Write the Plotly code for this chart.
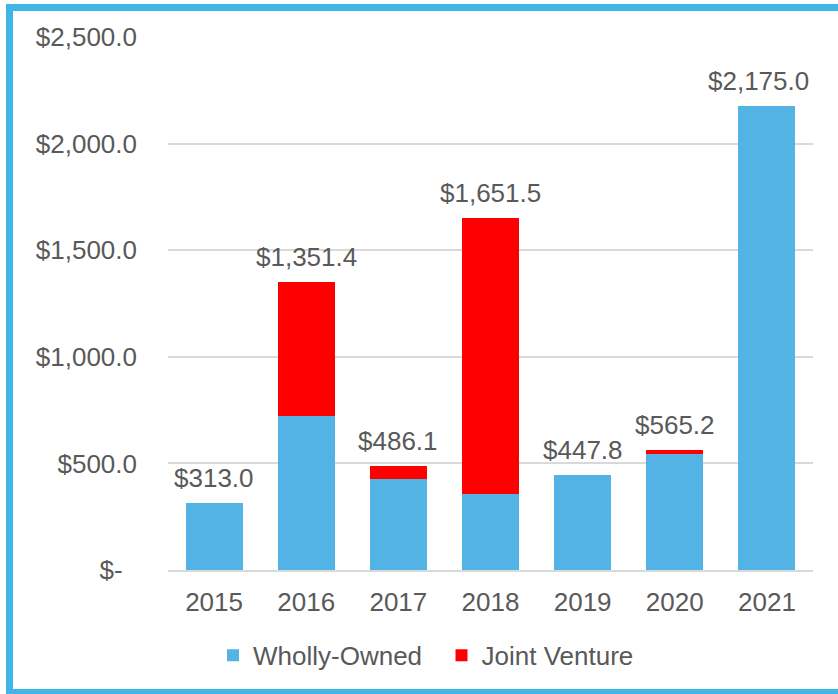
import plotly.graph_objects as go

# Values ($ millions)
years = ["2015", "2016", "2017", "2018", "2019", "2020", "2021"]
wholly_owned = [313.0, 720.6, 426.0, 355.6, 447.8, 545.5, 2175.0]
joint_venture = [0.0, 630.8, 60.1, 1295.9, 0.0, 19.7, 0.0]
total_labels = ["$313.0", "$1,351.4", "$486.1", "$1,651.5", "$447.8", "$565.2", "$2,175.0"]

y_ticks = [0, 500, 1000, 1500, 2000, 2500]
y_tick_text = ["$-\u00a0\u00a0", "$500.0", "$1,000.0", "$1,500.0", "$2,000.0", "$2,500.0"]

totals = [w + j for w, j in zip(wholly_owned, joint_venture)]

grey = "#595959"
frame = "#41B6E6"
font = dict(family="Liberation Sans, Arial, sans-serif", size=26, color=grey)

fig = go.Figure()
fig.add_trace(go.Bar(x=years, y=wholly_owned, name="Wholly-Owned\u00a0\u00a0",
                     marker=dict(color="#52B3E4", line=dict(width=0))))
fig.add_trace(go.Bar(x=years, y=joint_venture, name="Joint Venture",
                     marker=dict(color="#FF0000", line=dict(width=0))))

# total labels above each stack (numeric-looking category names would be read
# as indices on a category axis, so place by index); the last one is nudged
# left so it stays inside the chart, as in the original
for i, (tot, lab) in enumerate(zip(totals, total_labels)):
    fig.add_annotation(x=i, y=tot, text=lab, showarrow=False,
                       yanchor="bottom", yshift=8, font=font,
                       xshift=-8 if i == len(totals) - 1 else 0)

# light blue frame: left, top and bottom edges (right edge is off the picture)
W, H, L, B, T = 838, 694, 168, 124, 37
pw, ph = W - L - 25, H - T - B
px = lambda v: (v - L) / pw
py = lambda v: (H - B - v) / ph
fx0, fx1 = px(9.5), px(W)
fy_top, fy_bot = py(7.5), py(691.5)
fig.add_shape(type="line", xref="paper", yref="paper", x0=fx0, x1=fx1, y0=fy_top, y1=fy_top,
              line=dict(color=frame, width=7))
fig.add_shape(type="line", xref="paper", yref="paper", x0=fx0, x1=fx1, y0=fy_bot, y1=fy_bot,
              line=dict(color=frame, width=5))
fig.add_shape(type="line", xref="paper", yref="paper", x0=fx0, x1=fx0, y0=py(4), y1=py(694),
              line=dict(color=frame, width=7))

fig.update_layout(
    width=W, height=H,
    margin=dict(l=L, r=25, t=T, b=B),
    barmode="stack", bargap=0.38,
    plot_bgcolor="white", paper_bgcolor="white",
    font=font,
    showlegend=True,
    legend=dict(orientation="h", x=0.40, xanchor="center", y=-0.16, yanchor="middle",
                font=font, itemwidth=30, traceorder="normal"),
    xaxis=dict(type="category", range=[-0.5, len(years) - 0.5], showgrid=False,
               showline=True, linecolor="#D9D9D9", linewidth=2, ticks="",
               ticklabelstandoff=8, tickfont=font),
    yaxis=dict(range=[0, 2500], tickvals=y_ticks, ticktext=y_tick_text,
               showgrid=True, gridcolor="#D9D9D9", gridwidth=1.5,
               zeroline=False, showline=False, ticks="", ticklabelstandoff=30,
               tickfont=font),
)

# remove the default page margin so the figure sits at the window's corner
fig.write_html("out.html", config={"displayModeBar": False},
               post_script="document.body.style.margin='0';")
